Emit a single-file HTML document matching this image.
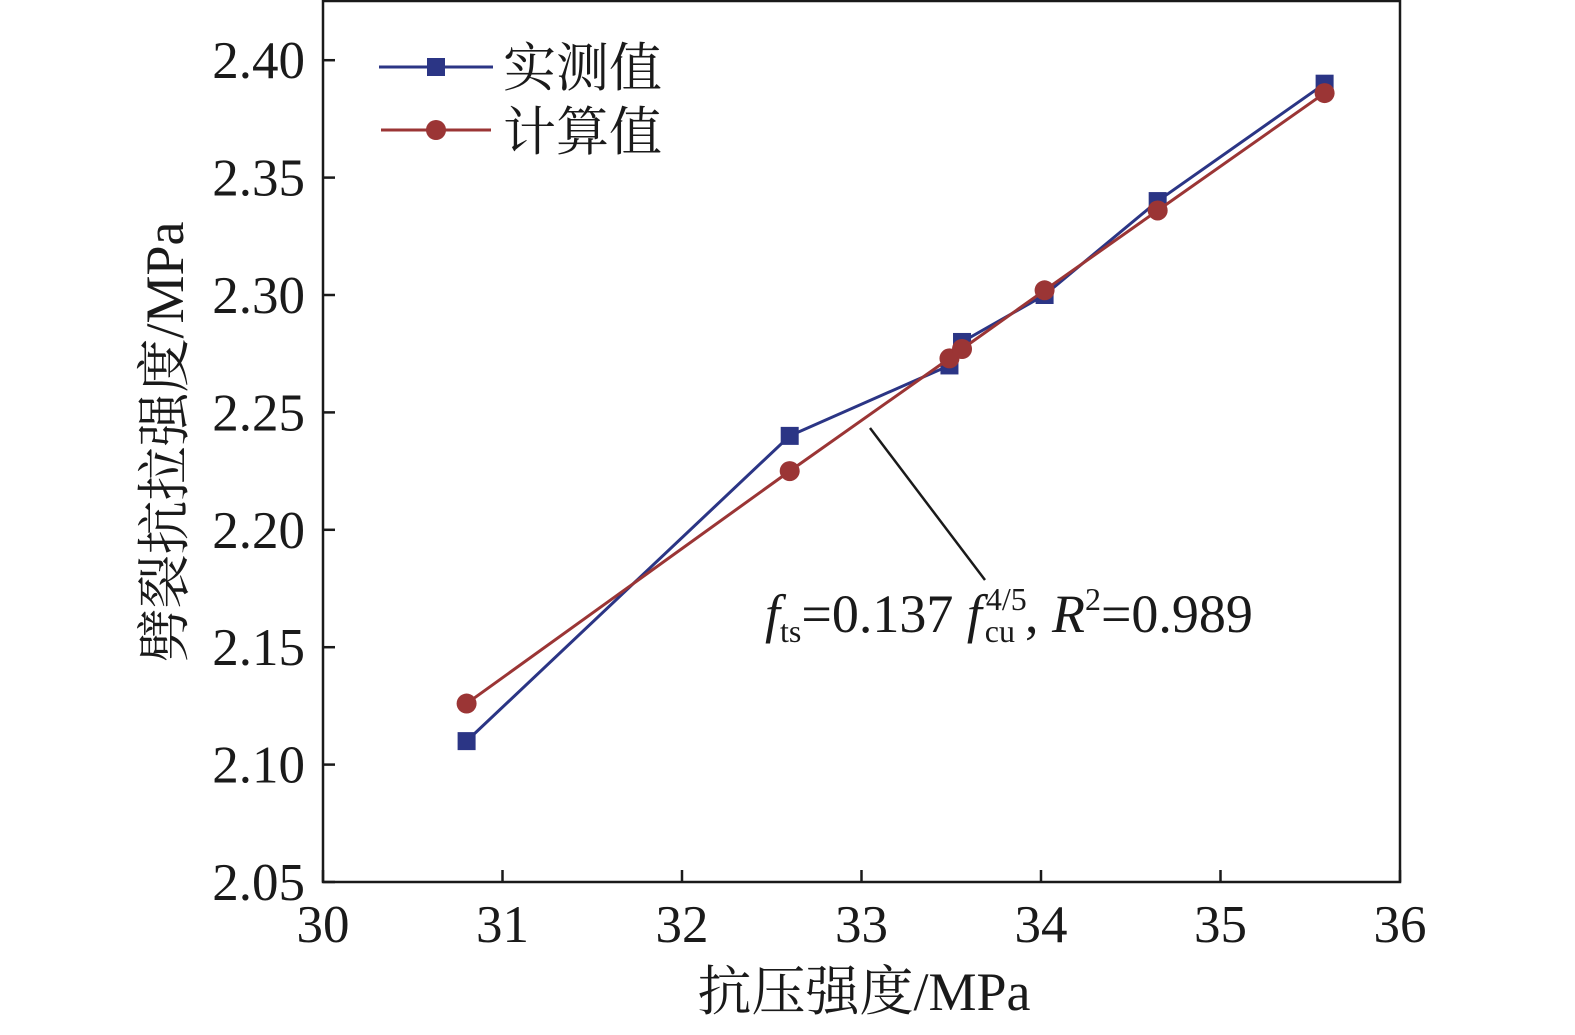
<!DOCTYPE html>
<html><head><meta charset="utf-8"><style>
body{margin:0;background:#fff}
svg text{font-family:"Liberation Serif","Noto Serif CJK SC",serif;fill:#1a1a1a}
</style></head><body>
<svg id="c" width="1575" height="1030" viewBox="0 0 1575 1030" xmlns="http://www.w3.org/2000/svg"></svg>
<script>
const xData=[30.80,32.60,33.49,33.56,34.02,34.65,35.58];
const measured=[2.11,2.24,2.27,2.28,2.30,2.34,2.39];
const calculated=[2.126,2.225,2.273,2.277,2.302,2.336,2.386];
const xTicks=[30,31,32,33,34,35,36];
const yTicks=[2.05,2.10,2.15,2.20,2.25,2.30,2.35,2.40];
const NS="http://www.w3.org/2000/svg";
const svg=document.getElementById('c');
const L=323,R=1400,T=1,B=882;
const X=v=>L+(v-30)/6*(R-L);
const Y=v=>B-(v-2.05)/0.05*117.4;
function el(t,a,p){const e=document.createElementNS(NS,t);for(const k in a)e.setAttribute(k,a[k]);(p||svg).appendChild(e);return e;}
const frame=el('rect',{x:L,y:T,width:R-L,height:B-T,fill:'none',stroke:'#1a1a1a','stroke-width':2.5});


xTicks.forEach(t=>{
 const l=el('line',{x1:X(t),x2:X(t),y1:B,y2:B-12,stroke:'#1a1a1a','stroke-width':2.5});
 
 
 const tx=el('text',{x:X(t),y:942,'font-size':53,'text-anchor':'middle'});tx.textContent=t;
 
 
});
yTicks.forEach(t=>{
 const l=el('line',{x1:L,x2:L+12,y1:Y(t),y2:Y(t),stroke:'#1a1a1a','stroke-width':2.5});
 
 
 const tx=el('text',{x:305,y:Y(t)+18,'font-size':53,'text-anchor':'end'});tx.textContent=t.toFixed(2);
 
 
});
function series(vals,color,shape,name){
 const p=el('polyline',{points:xData.map((x,i)=>X(x)+','+Y(vals[i])).join(' '),fill:'none',stroke:color,'stroke-width':3});
 
 
 xData.forEach((x,i)=>{
  let m;
  if(shape==='sq')m=el('rect',{x:X(x)-9,y:Y(vals[i])-9,width:18,height:18,fill:color});
  else m=el('circle',{cx:X(x),cy:Y(vals[i]),r:10,fill:color});
  
  
 });
}
series(measured,'#2b3585','sq','measured');
series(calculated,'#9b3535','ci','calculated');
const lg=el('g',{});


el('line',{x1:379,x2:493,y1:67,y2:67,stroke:'#2b3585','stroke-width':3},lg);
el('rect',{x:427,y:58,width:18,height:18,fill:'#2b3585'},lg);
el('line',{x1:381,x2:491,y1:130,y2:130,stroke:'#9b3535','stroke-width':3},lg);
el('circle',{cx:436,cy:130,r:10,fill:'#9b3535'},lg);
const t1=el('text',{x:503,y:86,'font-size':53},lg);t1.textContent='实测值';
const t2=el('text',{x:503,y:150,'font-size':53},lg);t2.textContent='计算值';
const al=el('line',{x1:870,y1:428,x2:985,y2:580,stroke:'#1a1a1a','stroke-width':2.5});


const an=el('text',{x:765,y:632,'font-size':54});


an.innerHTML='<tspan font-style="italic">f</tspan><tspan font-size="32" dy="10">ts</tspan><tspan dy="-10">=0.137 </tspan><tspan font-style="italic">f</tspan><tspan font-size="32" dx="4" dy="-22">4/5</tspan><tspan font-size="32" dx="-42" dy="32">cu</tspan><tspan dx="10" dy="-10">, </tspan><tspan font-style="italic">R</tspan><tspan font-size="32" dy="-22">2</tspan><tspan dy="22">=0.989</tspan>';
const xt=el('text',{x:864,y:1010,'font-size':54,'text-anchor':'middle'});xt.textContent='抗压强度/MPa';


const yt=el('text',{x:0,y:0,'font-size':54,'text-anchor':'middle',transform:'translate(183,442) rotate(-90)'});yt.textContent='劈裂抗拉强度/MPa';


</script>
</body></html>
